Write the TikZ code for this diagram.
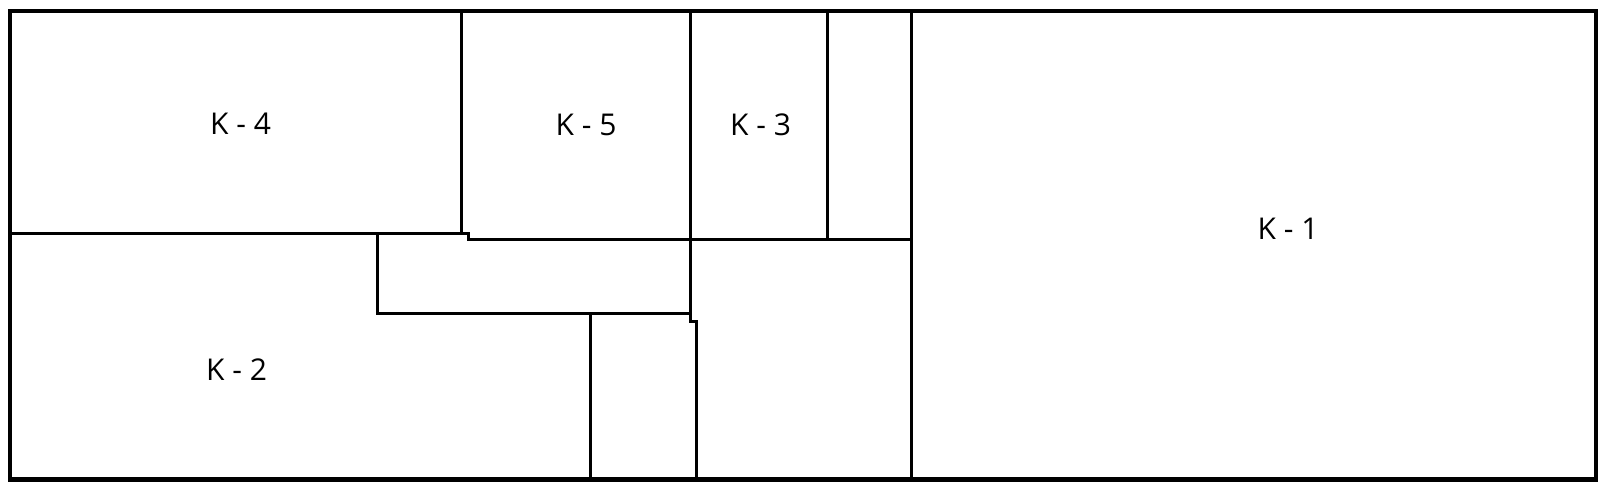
\documentclass[tikz,border=0pt]{standalone}
\usepackage{fontspec}
\setmainfont{Open Sans}
\begin{document}
\begin{tikzpicture}[x=0.5pt,y=-0.5pt,
  wall/.style={line width=1.5pt, line cap=rect},
  outerwall/.style={line width=2.1pt},
  lbl/.style={font=\fontsize{15}{18}\selectfont, inner sep=0pt}]
\useasboundingbox (0,0) rectangle (1609,491);
\draw[wall] (461,11) -- (461,233.3);
\draw[wall] (10,233.3) -- (468,233.3) -- (468,239.3) -- (911,239.3);
\draw[wall] (377.3,233.3) -- (377.3,314) -- (690,314);
\draw[wall] (690,11) -- (690,322) -- (696,322) -- (696,479.5);
\draw[wall] (590.7,314) -- (590.7,479.5);
\draw[wall] (827,11) -- (827,239.3);
\draw[wall] (911,11) -- (911,479.5);
\draw[outerwall] (10,11) rectangle (1596,479.5);
\node[lbl] (k4) at (240.5,124) {K - 4};
\node[lbl] (k5) at (586,125) {K - 5};
\node[lbl] (k3) at (760.5,125) {K - 3};
\node[lbl] (k1) at (1288,229) {K - 1};
\node[lbl] (k2) at (236.5,370) {K - 2};
\end{tikzpicture}
\end{document}
